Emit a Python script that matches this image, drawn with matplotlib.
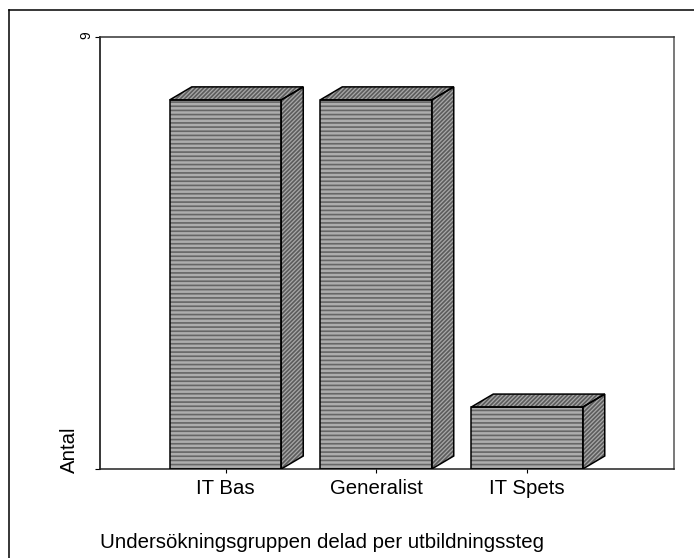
import matplotlib
matplotlib.use('Agg')
from matplotlib import pyplot as plt
from matplotlib.patches import Polygon, Rectangle

categories = ['IT Bas', 'Generalist', 'IT Spets']
values = [7.69, 7.69, 1.29]
ymax = 9
top_label = '9'
ylabel = 'Antal'
xlabel = 'Undersökningsgruppen delad per utbildningssteg'

W, H = 694, 558
plt.rcParams['font.family'] = ['Liberation Sans', 'DejaVu Sans']
plt.rcParams['hatch.linewidth'] = 1.2

fig = plt.figure(figsize=(W / 100, H / 100), dpi=100)

# outer frame, only top and left are visible in the picture
fig.add_artist(plt.Line2D([9 / W, 9 / W], [0, 1 - 9.5 / H], color='black', lw=1.1))
fig.add_artist(plt.Line2D([9 / W, 1], [1 - 9.5 / H, 1 - 9.5 / H], color='black', lw=1.1))

ax = fig.add_axes([100 / W, 1 - 469 / H, 574 / W, 432 / H])
ax.set_xlim(0, 574)
ax.set_ylim(0, ymax)

for s in ax.spines.values():
    s.set_linewidth(1.1)
ax.spines['right'].set_color('#555555')
ax.spines['top'].set_color('#333333')
ax.spines['bottom'].set_color('#222222')

centers = [125.5, 276, 427]
bar_w = 111.5
dx = 22
dy = 13 * ymax / 432

for c, v in zip(centers, values):
    x0 = c - bar_w / 2
    x1 = c + bar_w / 2
    top = [(x0, v), (x0 + dx, v + dy), (x1 + dx, v + dy), (x1, v)]
    side = [(x1, 0), (x1 + dx, dy), (x1 + dx, v + dy), (x1, v)]
    ax.add_patch(Rectangle((x0, 0), bar_w, v, facecolor='#adadad', edgecolor='#666666',
                           hatch='-' * 4, lw=0))
    ax.add_patch(Rectangle((x0, 0), bar_w, v, fill=False, edgecolor='black', lw=1.1, zorder=3))
    for pts in (top, side):
        ax.add_patch(Polygon(pts, facecolor='#a8a8a8', edgecolor='#5c5c5c', lw=0, hatch='/' * 8))
        ax.add_patch(Polygon(pts, fill=False, edgecolor='black', lw=1.1, zorder=3))

ax.set_xticks(centers)
ax.set_xticklabels(categories, fontsize=14.7, va='baseline')
ax.set_yticks([0, ymax])
ax.set_yticklabels(['', ''])
ax.tick_params(axis='x', length=2.9, width=0.8, pad=15, direction='out')
ax.tick_params(axis='y', length=3.6, width=0.8)

fig.text(86 / W, 1 - 35 / H, top_label, fontsize=10, rotation=90, ha='center', va='center')
fig.text(69 / W, 1 - 450 / H, ylabel, fontsize=14.7, rotation=90, ha='center', va='center')
fig.text(100 / W, 1 - 542 / H, xlabel, fontsize=14.7, ha='left', va='center')

fig.savefig('out.png', dpi=100)
